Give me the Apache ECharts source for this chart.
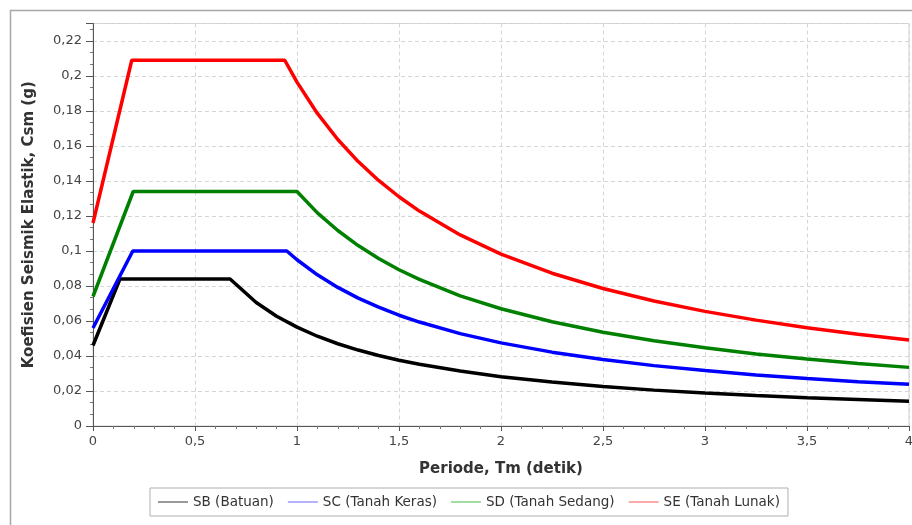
<!DOCTYPE html>
<html>
<head>
<meta charset="utf-8">
<script src="https://cdn.jsdelivr.net/npm/echarts@6/dist/echarts.min.js"></script>
<style>
html,body{margin:0;padding:0;background:#fff;}
#main{width:912px;height:525px;}
</style>
</head>
<body>
<div id="main"></div>
<script>
// Period T (s) and Csm (g)
var sbT   = [0, 0.132, 0.672, 0.8, 0.9, 1.0, 1.1, 1.2, 1.3, 1.4, 1.5, 1.6, 1.8, 2.0, 2.25, 2.5, 2.75, 3.0, 3.25, 3.5, 3.75, 4.0];
var sbCsm = [0.046, 0.084, 0.084, 0.0706, 0.0627, 0.0565, 0.0513, 0.0470, 0.0434, 0.0403, 0.0376, 0.0353, 0.0314, 0.0282, 0.0251, 0.0226, 0.0205, 0.0188, 0.0174, 0.0161, 0.0151, 0.0141];

var scT   = [0, 0.195, 0.95, 1.0, 1.1, 1.2, 1.3, 1.4, 1.5, 1.6, 1.8, 2.0, 2.25, 2.5, 2.75, 3.0, 3.25, 3.5, 3.75, 4.0];
var scCsm = [0.056, 0.100, 0.100, 0.0950, 0.0864, 0.0792, 0.0731, 0.0679, 0.0633, 0.0594, 0.0528, 0.0475, 0.0422, 0.0380, 0.0345, 0.0317, 0.0292, 0.0271, 0.0253, 0.0238];

var sdT   = [0, 0.197, 1.0, 1.1, 1.2, 1.3, 1.4, 1.5, 1.6, 1.8, 2.0, 2.25, 2.5, 2.75, 3.0, 3.25, 3.5, 3.75, 4.0];
var sdCsm = [0.074, 0.134, 0.134, 0.1218, 0.1117, 0.1031, 0.0957, 0.0893, 0.0838, 0.0744, 0.0670, 0.0596, 0.0536, 0.0487, 0.0447, 0.0412, 0.0383, 0.0357, 0.0335];

var seT   = [0, 0.19, 0.94, 1.0, 1.1, 1.2, 1.3, 1.4, 1.5, 1.6, 1.8, 2.0, 2.25, 2.5, 2.75, 3.0, 3.25, 3.5, 3.75, 4.0];
var seCsm = [0.116, 0.209, 0.209, 0.1965, 0.1786, 0.1637, 0.1511, 0.1403, 0.1310, 0.1228, 0.1092, 0.0982, 0.0873, 0.0786, 0.0714, 0.0655, 0.0605, 0.0561, 0.0524, 0.0491];

var seriesNames = ['SB (Batuan)', 'SC (Tanah Keras)', 'SD (Tanah Sedang)', 'SE (Tanah Lunak)'];
var seriesColors = ['#000000', '#0000ff', '#008000', '#ff0000'];
var legendColors = ['#333333', '#6666ff', '#44bb44', '#ff5555'];

function zip(a, b) { return a.map(function (v, i) { return [v, b[i]]; }); }
var allData = [zip(sbT, sbCsm), zip(scT, scCsm), zip(sdT, sdCsm), zip(seT, seCsm)];

function fmt(v) { return String(+v.toFixed(4)).replace('.', ','); }

var chart = echarts.init(document.getElementById('main'), null, {renderer: 'canvas'});
var font = '"DejaVu Sans", Verdana, sans-serif';

chart.setOption({
  animation: false,
  backgroundColor: '#ffffff',
  textStyle: {fontFamily: font},
  graphic: [{
    type: 'rect',
    shape: {x: 10.5, y: 10.5, width: 920, height: 530},
    style: {fill: 'none', stroke: '#a8a8a8', lineWidth: 1.5},
    silent: true
  }],
  grid: {left: 93, right: 3, top: 23.5, bottom: 99, outerBoundsMode: 'none', containLabel: false,
         show: true, borderColor: '#d0d0d0', borderWidth: 1, backgroundColor: 'transparent'},
  legend: {
    data: seriesNames.map(function (n, i) { return {name: n, icon: 'rect', itemStyle: {color: legendColors[i]}}; }),
    left: 150, top: 488,
    itemWidth: 30, itemHeight: 1, itemGap: 14,
    padding: [7, 8, 7, 8],
    borderColor: '#b0b0b0', borderWidth: 1,
    textStyle: {fontFamily: font, fontSize: 13.5, color: '#333'},
    selectedMode: false
  },
  xAxis: {
    type: 'value', min: 0, max: 4, interval: 0.5,
    name: 'Periode, Tm (detik)', nameLocation: 'middle', nameGap: 36,
    nameTextStyle: {fontFamily: font, fontSize: 15, fontWeight: 'bold', color: '#333'},
    axisLine: {show: true, onZero: false, lineStyle: {color: '#555', width: 1}},
    axisTick: {show: true, length: 5, lineStyle: {color: '#555'}},
    minorTick: {show: true, splitNumber: 5, length: 3, lineStyle: {color: '#777'}},
    axisLabel: {fontFamily: font, fontSize: 13, color: '#444', margin: 9, formatter: fmt},
    splitLine: {show: true, lineStyle: {color: '#d6d6d6', type: [4, 3], width: 1}}
  },
  yAxis: {
    type: 'value', min: 0, max: 0.23, interval: 0.02,
    name: 'Koefisien Seismik Elastik, Csm (g)', nameLocation: 'middle', nameGap: 56,
    nameTextStyle: {fontFamily: font, fontSize: 15, fontWeight: 'bold', color: '#333'},
    axisLine: {show: true, onZero: false, lineStyle: {color: '#555', width: 1}},
    axisTick: {show: true, length: 7, lineStyle: {color: '#555'}},
    minorTick: {show: true, splitNumber: 3, length: 3, lineStyle: {color: '#777'}},
    axisLabel: {fontFamily: font, fontSize: 13, color: '#444', margin: 11, showMaxLabel: false, formatter: fmt},
    splitLine: {show: true, lineStyle: {color: '#d6d6d6', type: [4, 3], width: 1}}
  },
  series: seriesNames.map(function (n, i) {
    return {
      name: n, type: 'line', data: allData[i],
      showSymbol: false, symbol: 'none', smooth: false,
      lineStyle: {color: seriesColors[i], width: 3.5},
      itemStyle: {color: seriesColors[i]},
      z: 3
    };
  })
});
</script>
</body>
</html>
